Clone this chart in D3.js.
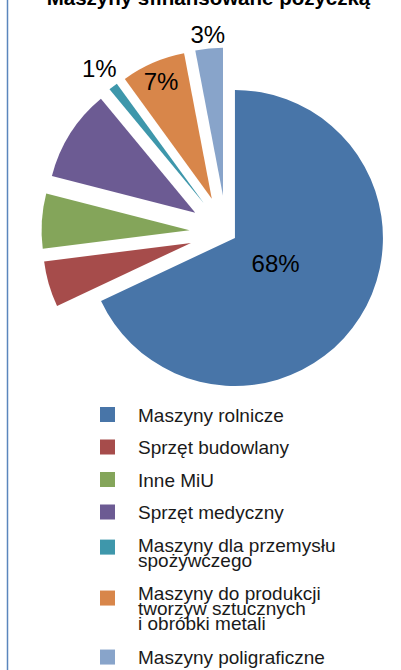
<!DOCTYPE html>
<html>
<head>
<meta charset="utf-8">
<script src="https://cdn.jsdelivr.net/npm/d3@7/dist/d3.min.js"></script>
<style>
  html, body { margin: 0; padding: 0; background: #ffffff; }
  svg { display: block; }
</style>
</head>
<body>
<svg id="chart" width="401" height="670"></svg>
<script>
// ---- data ----
const title = "Maszyny sfinansowane pożyczką";
const categories = [
  "Maszyny rolnicze",
  "Sprzęt budowlany",
  "Inne MiU",
  "Sprzęt medyczny",
  "Maszyny dla przemysłu\nspożywczego",
  "Maszyny do produkcji\ntworzyw sztucznych\ni obróbki metali",
  "Maszyny poligraficzne"
];
const values = [68, 5, 6, 10, 1, 7, 3];
const labelShown = [true, false, false, false, true, true, true];
const colors = ["#4875a8", "#a64c4b", "#84a55a", "#6c5b93", "#3e97ab", "#d8864a", "#88a4ca"];

// ---- layout ----
const W = 401, H = 670;
const cx = 226.5, cy = 232.6, R = 148;
const svg = d3.select("#chart");

svg.append("rect").attr("x", 0).attr("y", 0).attr("width", W).attr("height", H).attr("fill", "#fff");
// left frame line
svg.append("line").attr("x1", 7.5).attr("x2", 7.5).attr("y1", 0).attr("y2", H)
  .attr("stroke", "#5b86bd").attr("stroke-width", 1.5);

// title (clipped at top)
svg.append("text").attr("x", 208.5).attr("y", 5)
  .attr("text-anchor", "middle")
  .attr("font-family", "'Liberation Sans', Arial, sans-serif")
  .attr("font-weight", "bold").attr("font-size", 20.5).attr("fill", "#000")
  .text(title);

const pie = d3.pie().sort(null).value(d => d).startAngle(0).endAngle(2 * Math.PI);
const arcs = pie(values);
const arc = d3.arc().innerRadius(0).outerRadius(R);

const g = svg.append("g").attr("transform", `translate(${cx},${cy})`);

function explode(i) { return i === 0 ? 10 : 37; }
function offsetOf(d, i) {
  const m = (d.startAngle + d.endAngle) / 2;
  const e = explode(i);
  return [e * Math.sin(m), -e * Math.cos(m)];
}

g.selectAll("path.slice").data(arcs).enter().append("path")
  .attr("class", "slice")
  .attr("d", arc)
  .attr("fill", (d, i) => colors[i])
  .attr("transform", (d, i) => { const o = offsetOf(d, i); return `translate(${o[0]},${o[1]})`; });

// data labels
const fontSize = 24;
const total = d3.sum(values);
arcs.forEach((d, i) => {
  if (!labelShown[i]) return;
  const m = (d.startAngle + d.endAngle) / 2;
  const o = offsetOf(d, i);
  const frac = values[i] / total;
  const txt = Math.round(frac * 100) + "%";
  const halfW = txt.length * fontSize * 0.33, halfH = fontSize * 0.36;
  let r;
  if (frac >= 0.5) r = R * 0.325;
  else if (frac >= 0.05) r = R * 0.865;
  else r = R + 3 + Math.abs(Math.sin(m)) * halfW * 1.3 + Math.abs(Math.cos(m)) * halfH;
  const x = o[0] + r * Math.sin(m), y = o[1] - r * Math.cos(m);
  g.append("text")
    .attr("x", x).attr("y", y + fontSize * 0.35)
    .attr("text-anchor", "middle")
    .attr("font-family", "'Liberation Sans', Arial, sans-serif")
    .attr("font-size", fontSize).attr("fill", "#000")
    .text(txt);
});

// legend
const legend = svg.append("g");
const lines = categories.map(c => c.split("\n"));
let rowTop = 407;
const sq = 15, sqX = 100, txX = 138, lineStep = 15;
lines.forEach((ls, i) => {
  const center = rowTop + sq / 2;
  legend.append("rect").attr("x", sqX).attr("y", rowTop).attr("width", sq).attr("height", sq)
    .attr("fill", colors[i]);
  const firstBase = center + 7 - (ls.length - 1) * 2.3;
  const t = legend.append("text")
    .attr("font-family", "'Liberation Sans', Arial, sans-serif")
    .attr("font-size", 19).attr("fill", "#1a1a1a");
  ls.forEach((l, j) => {
    t.append("tspan").attr("x", txX).attr("y", firstBase + j * lineStep).text(l);
  });
  const next = i + 1 < lines.length ? lines[i + 1].length : 1;
  rowTop += 32.5 + (ls.length - 1) * 13.25 + (next - 1) * 2.6;
});
</script>
</body>
</html>
